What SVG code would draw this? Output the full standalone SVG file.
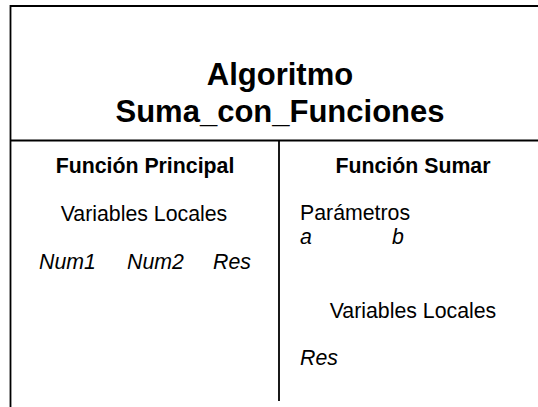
<svg xmlns="http://www.w3.org/2000/svg" width="538" height="407" viewBox="0 0 538 407">
<style>
.ln{stroke:#000;stroke-width:1.8;fill:none}
text{font-family:"Liberation Sans",Arial,sans-serif;fill:#000}
.title{font-size:31px;font-weight:bold;text-anchor:middle}
.hd{font-size:21.3px;font-weight:bold;text-anchor:middle}
.rg{font-size:21.3px}
.it{font-size:21.3px;font-style:italic}
.mid{text-anchor:middle}
</style>
<rect width="538" height="407" fill="#fff"/>
<g id="connectors">
<line class="ln" x1="10.5" y1="6" x2="538" y2="6"/>
<line class="ln" x1="10.5" y1="5.1" x2="10.5" y2="407"/>
<line class="ln" x1="10.5" y1="140.5" x2="538" y2="140.5"/>
<line class="ln" x1="279" y1="140.5" x2="279" y2="401"/>
</g>
<g id="title">
<text class="title" x="280" y="85">Algoritmo</text>
<text class="title" x="280" y="122">Suma_con_Funciones</text>
</g>
<g id="funcion-principal">
<text class="hd" x="145" y="173">Función Principal</text>
<text class="rg mid" x="144" y="221">Variables Locales</text>
<text class="it" x="39" y="269">Num1</text>
<text class="it" x="127" y="269">Num2</text>
<text class="it" x="213" y="269">Res</text>
</g>
<g id="funcion-sumar">
<text class="hd" x="413" y="173">Función Sumar</text>
<text class="rg" x="300" y="220">Parámetros</text>
<text class="it" x="300" y="244">a</text>
<text class="it" x="392" y="244">b</text>
<text class="rg mid" x="413" y="318">Variables Locales</text>
<text class="it" x="300" y="365">Res</text>
</g>
</svg>
